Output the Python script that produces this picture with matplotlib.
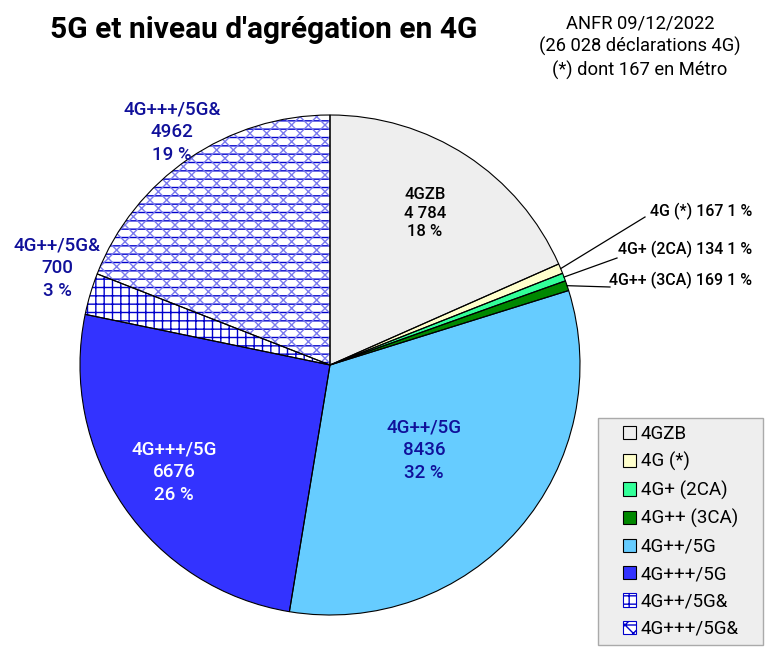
import numpy as np
import matplotlib
matplotlib.use("Agg")
import matplotlib.pyplot as plt
from matplotlib.patches import Patch, Rectangle

plt.rcParams['font.family'] = ['Roboto', 'DejaVu Sans']

# données
categories = ["4GZB", "4G (*)", "4G+ (2CA)", "4G++ (3CA)", "4G++/5G",
              "4G+++/5G", "4G++/5G&", "4G+++/5G&"]
values = [4784, 167, 134, 169, 8436, 6676, 700, 4962]
value_labels = ["4 784", "167", "134", "169", "8436", "6676", "700", "4962"]
pct_labels = ["18 %", "1 %", "1 %", "1 %", "32 %", "26 %", "3 %", "19 %"]

colors = ["#eeeeee", "#ffffcc", "#33ff99", "#008800", "#66ccff",
          "#3333ff", "#ffffff", "#ffffff"]
hatches = [None, None, None, None, None, None, "++", "--"]
HATCH_BLUE = "#0000cc"
LABEL_BLUE = "#10109a"

W, H = 767, 652
fig = plt.figure(figsize=(W / 100, H / 100), dpi=100)
# pie: centre (330, 365) px, rayon 250 px
ax = fig.add_axes([80 / W, (H - 365 - 250) / H, 500 / W, 500 / H])

# couche de remplissage + hachures principales
wedges, _ = ax.pie(values, colors=colors, startangle=90, counterclock=False,
                   radius=1, wedgeprops=dict(linewidth=0))
for w, h in zip(wedges, hatches):
    if h:
        w.set_hatch(h)
        w.set_edgecolor(HATCH_BLUE)

# hachures diagonales claires pour 4G+++/5G&
over, _ = ax.pie(values, colors=["none"] * len(values), startangle=90,
                 counterclock=False, radius=1, wedgeprops=dict(linewidth=0))
for i, w in enumerate(over):
    if categories[i] == "4G+++/5G&":
        w.set_hatch("xx")
        w.set_edgecolor("#7a7aee")
    else:
        w.set_visible(False)

# contours noirs
edges, _ = ax.pie(values, colors=["none"] * len(values), startangle=90,
                  counterclock=False, radius=1,
                  wedgeprops=dict(linewidth=0.8, edgecolor="black"))

ax.set_xlim(-1, 1)
ax.set_ylim(-1, 1)
ax.set_aspect("equal")
ax.axis("off")


def px(x, y):
    # pixels de l'image -> coordonnées du camembert
    return (x - 330) / 250, (365 - y) / 250


# étiquettes internes / externes
big_pos = {
    "4GZB": (px(425, 213), "black", 12),
    "4G++/5G": (px(424, 450), LABEL_BLUE, 13.5),
    "4G+++/5G": (px(174, 472), "white", 13.5),
    "4G++/5G&": (px(57, 268), LABEL_BLUE, 13.5),
    "4G+++/5G&": (px(172, 132), LABEL_BLUE, 13.5),
}
for i, cat in enumerate(categories):
    if cat in big_pos:
        (x, y), c, fs = big_pos[cat]
        ax.text(x, y, f"{cat}\n{value_labels[i]}\n{pct_labels[i]}",
                ha="center", va="center", fontsize=fs, color=c,
                fontweight="medium", linespacing=1.33, clip_on=False)

# petites parts : lignes de rappel
small_text = {
    "4G (*)": (px(645, 217), px(752, 211)),
    "4G+ (2CA)": (px(617, 258), px(752, 249)),
    "4G++ (3CA)": (px(610, 287), px(752, 280)),
}
for i, cat in enumerate(categories):
    if cat in small_text:
        w = wedges[i]
        mid = np.deg2rad((w.theta1 + w.theta2) / 2)
        x0, y0 = np.cos(mid), np.sin(mid)
        (lx, ly), (tx, ty) = small_text[cat]
        ax.plot([x0, lx], [y0, ly], color="black", lw=0.9, clip_on=False)
        ax.text(tx, ty, f"{cat} {value_labels[i]} {pct_labels[i]}",
                ha="right", va="center", fontsize=11.5, color="black",
                fontweight="medium", clip_on=False)

# titres
fig.text(50 / W, 1 - 30 / H, "5G et niveau d'agrégation en 4G",
         ha="left", va="center", fontsize=21.5, fontweight="bold")
fig.text(640 / W, 1 - 47 / H,
         "ANFR 09/12/2022\n(26 028 déclarations 4G)\n(*) dont 167 en Métro",
         ha="center", va="center", fontsize=13.2, linespacing=1.3)

# légende (cadre dessiné à part)
fig.add_artist(Rectangle((598 / W, 1 - 645 / H), 165 / W, 227 / H,
                         transform=fig.transFigure, facecolor="#eeeeee",
                         edgecolor="#aaaaaa", linewidth=1.0, zorder=1))
handles = []
for i, cat in enumerate(categories):
    handles.append(Patch(facecolor=colors[i], edgecolor="black",
                         linewidth=0.8, label=cat))
handles[6] = Patch(facecolor="white", edgecolor=HATCH_BLUE,
                   hatch="++", linewidth=0.8, label=categories[6])
handles[7] = Patch(facecolor="white", edgecolor=HATCH_BLUE,
                   hatch="xx-", linewidth=0.8, label=categories[7])
leg = fig.legend(handles=handles, loc="upper left",
                 bbox_to_anchor=(619 / W, 1 - 421 / H), borderaxespad=0,
                 fontsize=13.5, frameon=False,
                 handlelength=0.7, handleheight=0.7, handletextpad=0.25,
                 labelspacing=0.5, borderpad=0.2)
leg.set_zorder(2)

fig.savefig("out.png", dpi=100)
